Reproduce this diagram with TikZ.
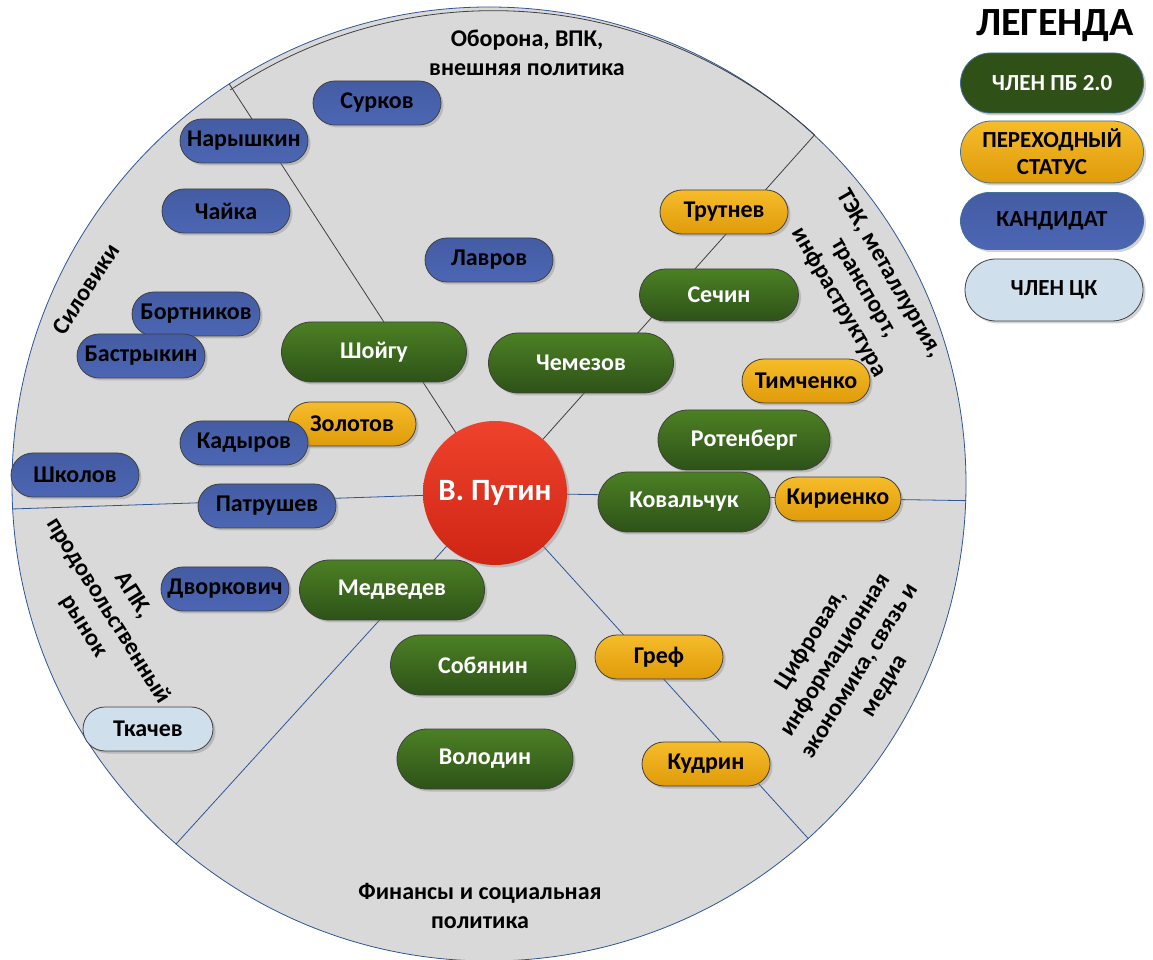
\documentclass[tikz,border=0pt]{standalone}
\usepackage{fontspec}
\setmainfont{Carlito}
\usepackage{tikz}
\usetikzlibrary{shapes.misc, shadows}
\definecolor{sectorgray}{RGB}{217,217,217}
\definecolor{rimblue}{RGB}{47,85,151}
\definecolor{greentop}{RGB}{76,128,36}
\definecolor{greenbot}{RGB}{45,82,24}
\definecolor{orangetop}{RGB}{246,188,42}
\definecolor{orangebot}{RGB}{223,155,10}
\definecolor{bluetop}{RGB}{68,92,162}
\definecolor{bluebot}{RGB}{76,102,180}
\definecolor{ckblue}{RGB}{207,223,235}
\definecolor{redtop}{RGB}{238,66,44}
\definecolor{redbot}{RGB}{207,37,20}
\definecolor{legendgreen}{RGB}{47,81,24}
\definecolor{legendedge}{RGB}{65,113,156}
\tikzstyle{pill} = [rounded rectangle, minimum width=132pt, minimum height=44pt, inner sep=2pt, text centered, draw=black!75, line width=0.8pt, font=\fontsize{24}{28}\selectfont\bfseries, drop shadow={shadow xshift=2.5pt, shadow yshift=-2.5pt, opacity=0.35}]
\tikzstyle{bigpill} = [minimum width=189pt, minimum height=60pt]
\tikzstyle{member} = [pill, top color=greentop, bottom color=greenbot, text=white]
\tikzstyle{transit} = [pill, top color=orangetop, bottom color=orangebot]
\tikzstyle{candidate} = [pill, top color=bluetop, bottom color=bluebot]
\tikzstyle{ckmember} = [pill, fill=ckblue]
\tikzstyle{legendpill} = [pill, minimum width=187pt, minimum height=60pt, align=center, font=\fontsize{23}{27}\selectfont\bfseries]
\tikzstyle{leader} = [circle, minimum size=144pt, inner sep=0pt, top color=redtop, bottom color=redbot, text=white, font=\fontsize{31}{34}\selectfont\bfseries, drop shadow={shadow xshift=2.5pt, shadow yshift=-2.5pt, opacity=0.35}]
\tikzstyle{sector} = [align=center, inner sep=1pt, font=\fontsize{24}{29}\selectfont\bfseries]
\tikzstyle{blueline} = [line width=0.8pt, draw=rimblue]
\tikzstyle{darkline} = [line width=0.8pt, draw=black!75]

\begin{document}
\begin{tikzpicture}[x=1pt, y=1pt, node distance=69pt]
    \useasboundingbox (0,0) rectangle (1153,959);
    \node (rim) [circle, minimum size=954pt, inner sep=0pt, fill=sectorgray, draw=rimblue, line width=0.8pt] at (489,475) {};
    \draw [darkline] (rim.47.7) arc[start angle=47.7, end angle=123.5, radius=477pt];
    \coordinate (pc) at (495,466);
    \draw [darkline] (pc) -- (rim.123.5);
    \draw [darkline] (pc) -- (rim.47.7);
    \draw [blueline] (pc) -- (rim.358.8);
    \draw [blueline] (pc) -- (rim.312.1);
    \draw [blueline] (pc) -- (rim.229);
    \draw [blueline] (pc) -- (rim.183.5);
    \node (def) [sector] at (527,906) {Оборона, ВПК,\\внешняя политика};
    \node (sil) [sector, rotate=57] at (86,670) {Силовики};
    \node (tek) [sector, rotate=-60] at (864,671) {ТЭК, металлургия,\\транспорт,\\инфраструктура};
    \node (apk) [sector, rotate=-58] at (108,348) {АПК,\\продовольственный\\рынок};
    \node (dig) [sector, rotate=58] at (848,296) {Цифровая,\\информационная\\экономика, связь и\\медиа};
    \node (fin) [sector] at (480,53) {Финансы и социальная\\политика};
    \node (sur) [candidate] at (377,856) {Сурков};
    \node (nar) [candidate] at (244,818) {Нарышкин};
    \node (cha) [candidate] at (226,748) {Чайка};
    \node (lav) [candidate] at (489,699) {Лавров};
    \node (bor) [candidate] at (196,645) {Бортников};
    \node (bas) [candidate] at (141,603) {Бастрыкин};
    \node (sho) [member, bigpill] at (374,607) {Шойгу};
    \node (che) [member, bigpill] at (581,596) {Чемезов};
    \node (zol) [transit] at (352,535) {Золотов};
    \node (kad) [candidate] at (244,516) {Кадыров};
    \node (shk) [candidate] at (75,484) {Школов};
    \node (pat) [candidate, minimum width=142pt] at (267,453) {Патрушев};
    \node (tru) [transit] at (724,747) {Трутнев};
    \node (sec) [member, minimum width=163pt, minimum height=52pt] at (719,664) {Сечин};
    \node (tim) [transit] at (806,578) {Тимченко};
    \node (rot) [member, bigpill, minimum width=176pt] at (744,519) {Ротенберг};
    \node (kov) [member, bigpill, minimum width=176pt] at (684,457) {Ковальчук};
    \node (kir) [transit, minimum width=130pt] at (838,460) {Кириенко};
    \node (put) [leader] at (pc) {В. Путин};
    \node (dvo) [candidate] at (225,370) {Дворкович};
    \node (med) [member, bigpill] at (392,369) {Медведев};
    \node (sob) [member, bigpill] at (483,294) {Собянин};
    \node (vol) [member, bigpill, minimum width=180pt] at (485,200) {Володин};
    \node (gre) [transit] at (659,302) {Греф};
    \node (kud) [transit] at (706,195) {Кудрин};
    \node (tka) [ckmember, minimum width=134pt] at (148,230) {Ткачев};
    \node (leg) [font=\fontsize{40}{44}\selectfont\bfseries] at (1055,933) {ЛЕГЕНДА};
    \node (leg1) [legendpill, fill=legendgreen, draw=legendedge, text=white] at (1052,876) {ЧЛЕН ПБ 2.0};
    \node (leg2) [legendpill, top color=orangetop, bottom color=orangebot, draw=legendedge, minimum height=62pt, below of=leg1] {ПЕРЕХОДНЫЙ\\СТАТУС};
    \node (leg3) [legendpill, top color=bluetop, bottom color=bluebot, draw=legendedge, minimum height=57pt, below of=leg2] {КАНДИДАТ};
    \node (leg4) [legendpill, fill=ckblue, minimum width=182pt, minimum height=62pt, below of=leg3, xshift=2pt] {ЧЛЕН ЦК};
\end{tikzpicture}
\end{document}
